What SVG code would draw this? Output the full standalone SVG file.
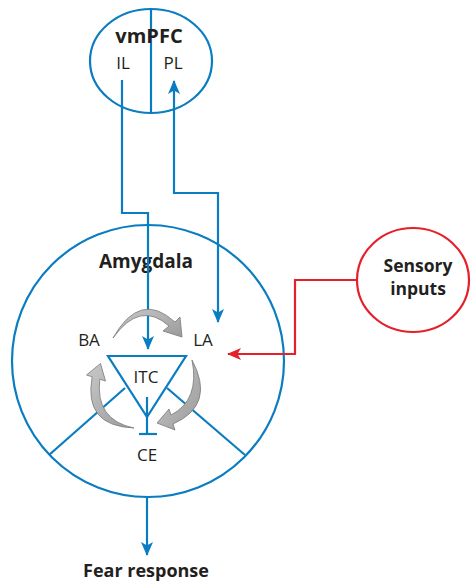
<svg xmlns="http://www.w3.org/2000/svg" width="473" height="581" viewBox="0 0 473 581">
<style>
.blue{fill:none;stroke:#0a7cc1;stroke-width:2.2}
.red{fill:none;stroke:#e5202b;stroke-width:2.2}
.t{font-family:"Open Sans","Liberation Sans",sans-serif;fill:#231f20;text-anchor:middle}
.b{font-weight:bold}
.g{fill:url(#gg);stroke:#7a7a7a;stroke-width:0.8}
</style>
<defs>
<marker id="ab" markerUnits="userSpaceOnUse" markerWidth="14" markerHeight="12" viewBox="0 0 14 12" refX="13" refY="6" orient="auto-start-reverse">
<path d="M0,0 L14,6 L0,12 L3.5,6 Z" fill="#0a7cc1"/>
</marker>
<marker id="ar" markerUnits="userSpaceOnUse" markerWidth="14" markerHeight="12" viewBox="0 0 14 12" refX="13" refY="6" orient="auto">
<path d="M0,0 L14,6 L0,12 L3.5,6 Z" fill="#e5202b"/>
</marker>
<linearGradient id="gg" x1="0" y1="0" x2="1" y2="1">
<stop offset="0" stop-color="#c9c9c9"/>
<stop offset="1" stop-color="#9a9a9a"/>
</linearGradient>
</defs>

<g id="vmPFC">
<ellipse class="blue" cx="151" cy="61" rx="61" ry="52" stroke-width="2.5"/>
<line class="blue" x1="151" y1="9" x2="151" y2="113"/>
<text class="t b" x="149" y="43" font-size="20">vmPFC</text>
<text class="t" x="123" y="69" font-size="17">IL</text>
<text class="t" x="173" y="69" font-size="17">PL</text>
</g>

<g id="amygdala">
<circle class="blue" cx="148" cy="361" r="136" stroke-width="2.5"/>
<text class="t b" x="146" y="268" font-size="19">Amygdala</text>
<path class="blue" d="M108,356 L186,356 L147,417 Z"/>
<line class="blue" x1="125" y1="388" x2="49" y2="455"/>
<line class="blue" x1="167" y1="388" x2="245" y2="455"/>
</g>

<g id="ITC">
<text class="t" x="146" y="383" font-size="17">ITC</text>
</g>
<g id="BA"><text class="t" x="89" y="346" font-size="17">BA</text></g>
<g id="LA"><text class="t" x="203" y="346" font-size="17">LA</text></g>
<g id="CE"><text class="t" x="147" y="461" font-size="17">CE</text></g>

<g id="sensory">
<ellipse class="red" cx="413" cy="280" rx="56" ry="52" stroke-width="2.5"/>
<text class="t b" x="418" y="272" font-size="17.5">Sensory</text>
<text class="t b" x="418" y="295" font-size="17.5">inputs</text>
</g>

<g id="fear">
<text class="t b" x="146" y="577" font-size="18">Fear response</text>
</g>

<g id="connectors">
<polyline class="blue" points="122,80 122,213 148,213 148,349" marker-end="url(#ab)"/>
<polyline class="blue" points="218,322 218,193 174,193 174,81" marker-start="url(#ab)" marker-end="url(#ab)"/>
<line class="blue" x1="147" y1="497" x2="147" y2="555" marker-end="url(#ab)"/>
<polyline class="red" points="357,280 295,280 295,354 228,354" marker-end="url(#ar)"/>
<line class="blue" x1="147" y1="397" x2="147" y2="434"/>
<line class="blue" x1="139" y1="434" x2="157" y2="434" stroke-width="2.6"/>
<path class="g" d="M113,338 Q140,290 175,322 L180,317 L182,337 L163,331 L169,326 Q140,300 113,338 Z"/>
<path class="g" d="M192,360 Q216,405 173,424 L175,430 L157,423 L169,409 L171,415 Q200,400 192,360 Z"/>
<path class="g" d="M134,428 Q83,426 92.2,376.8 L86.5,375 L100.5,363.5 L105.5,381 L99.8,379.2 Q95,420 134,428 Z"/>
</g>
</svg>
